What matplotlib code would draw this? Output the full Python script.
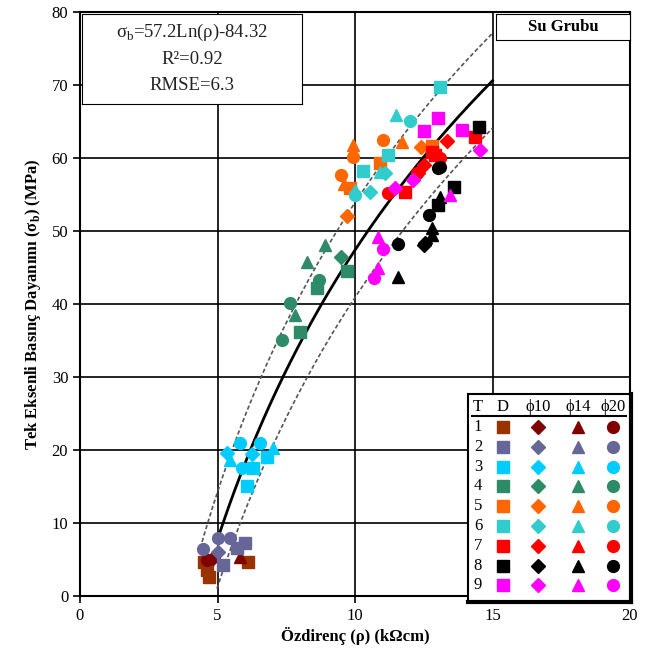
import matplotlib.pyplot as plt
import numpy as np

plt.rcParams['font.family'] = ['Liberation Serif', 'DejaVu Serif']
plt.rcParams['mathtext.fontset'] = 'custom'
plt.rcParams['mathtext.rm'] = 'Liberation Serif'
plt.rcParams['mathtext.bf'] = 'Liberation Serif:bold'

# group colours (1..9); group 1 squares are a browner red
colors = ["#800000", "#666699", "#00CCFF", "#2E8B68", "#FF6600",
          "#33CCCC", "#FF0000", "#000000", "#FF00FF"]
square1_color = "#993300"

# marker codes: s = D (square), D = phi10 (diamond), ^ = phi14, o = phi20
pt_group = [1, 1, 1, 1, 1, 1, 1,
            2, 2, 2, 2, 2, 2, 2,
            3, 3, 3, 3, 3, 3, 3, 3, 3, 3,
            4, 4, 4, 4, 4, 4, 4, 4, 4, 4,
            5, 5, 5, 5, 5, 5, 5, 5, 5, 5, 5,
            6, 6, 6, 6, 6, 6, 6, 6, 6, 6,
            7, 7, 7, 7, 7, 7, 7, 7, 7, 7,
            8, 8, 8, 8, 8, 8, 8, 8, 8, 8, 8, 8, 8,
            9, 9, 9, 9, 9, 9, 9, 9, 9, 9, 9]
pt_x = [4.5, 4.6, 4.7, 6.1, 4.85, 5.8, 4.6,
        4.47, 5.02, 5.45, 6.0, 5.7, 5.2, 5.0,
        5.82, 6.55, 5.35, 5.45, 7.0, 6.8, 6.3, 6.07, 5.9, 6.25,
        9.5, 9.7, 8.9, 8.25, 8.7, 8.6, 7.64, 7.8, 8.0, 7.35,
        9.93, 9.93, 11.0, 11.7, 10.9, 9.5, 9.6, 9.8, 9.7, 12.4, 12.8,
        13.1, 11.5, 12.0, 11.2, 10.3, 10.9, 11.1, 10.0, 10.0, 10.55,
        14.36, 13.35, 12.8, 12.9, 13.1, 12.5, 12.25, 11.8, 11.2, 12.3,
        14.5, 13.1, 13.0, 13.6, 13.0, 13.1, 12.7, 12.8, 12.8, 12.55, 11.55, 11.55, 12.5,
        13.0, 12.5, 13.9, 14.55, 13.45, 12.1, 11.45, 10.85, 11.0, 10.85, 10.7, 10.0]
pt_y = [4.6, 3.6, 2.6, 4.6, 5.2, 5.4, 5.0,
        6.5, 7.9, 8.0, 7.2, 6.6, 4.2, 6.0,
        21.0, 20.9, 19.6, 18.6, 20.3, 19.0, 17.6, 15.1, 17.6, 19.5,
        46.4, 44.5, 48.1, 45.8, 43.3, 42.2, 40.1, 38.5, 36.2, 35.1,
        61.8, 60.1, 62.4, 62.2, 59.3, 57.7, 56.5, 55.9, 52.1, 61.5, 61.7,
        69.7, 65.9, 65.0, 60.4, 58.2, 58.1, 57.9, 55.6, 54.9, 55.3,
        62.9, 62.3, 60.8, 60.4, 60.0, 59.0, 57.9, 55.4, 55.2, 57.9,
        64.3, 58.8, 58.6, 56.0, 53.6, 54.7, 52.2, 50.4, 49.4, 48.4, 48.2, 43.7, 48.1,
        65.5, 63.7, 63.8, 61.1, 54.9, 57.0, 55.9, 49.2, 47.5, 44.9, 43.6, 39.9]
pt_mark = ["s", "s", "s", "s", "D", "^", "o",
           "o", "o", "o", "s", "s", "s", "D",
           "o", "o", "D", "^", "^", "s", "s", "s", "o", "D",
           "D", "s", "^", "^", "o", "s", "o", "^", "s", "o",
           "^", "o", "o", "^", "s", "o", "^", "s", "D", "D", "s",
           "s", "^", "o", "s", "s", "^", "D", "^", "o", "D",
           "s", "D", "s", "s", "o", "D", "o", "s", "o", "D",
           "s", "o", "o", "s", "s", "^", "o", "^", "^", "D", "o", "^", "D",
           "s", "s", "s", "D", "^", "D", "D", "^", "o", "^", "o", "o"]

eq_lines = ["σ$_\\mathrm{b}$=57.2Ln(ρ)-84.32", "R²=0.92", "RMSE=6.3"]
legend_cols = ["T", "D", "ϕ10", "ϕ14", "ϕ20"]

fig = plt.figure(figsize=(6.46, 6.64), dpi=100)
ax = fig.add_axes([80 / 646, 68 / 664, 550 / 646, 584 / 664])

ax.set_xlim(0, 20)
ax.set_ylim(0, 80)
ax.set_xticks(np.arange(0, 21, 5))
ax.set_yticks(np.arange(0, 81, 10))
ax.grid(True, color="black", linewidth=1.2)
ax.set_axisbelow(True)
ax.tick_params(direction="out", length=5, width=1.2, labelsize=12)
for sp in ax.spines.values():
    sp.set_linewidth(1.5)

# fitted curve with dashed bounds
xf = np.linspace(5.05, 15, 200)
ax.plot(xf, 57.2 * np.log(xf) - 84.32, color="black", lw=2, zorder=3)
xu = np.linspace(4.37, 15, 200)
ax.plot(xu, 57.2 * np.log(xu) - 84.32 + 6.5, color="#555555", lw=1.2, ls=(0, (2.5, 1.5)), zorder=3)
xl = np.linspace(4.98, 15, 200)
ax.plot(xl, 57.2 * np.log(xl) - 84.32 - 6.5, color="#555555", lw=1.2, ls=(0, (2.5, 1.5)), zorder=3)

sizes = {"s": 8, "D": 7, "^": 8, "o": 8.5}
for g, x, y, m in zip(pt_group, pt_x, pt_y, pt_mark):
    c = square1_color if (g == 1 and m == "s") else colors[g - 1]
    ax.plot(x, y, marker=m, color=c, ms=sizes[m], ls="none", zorder=4)

ax.set_xlabel("Özdirenç (ρ) (kΩcm)", fontsize=12, fontweight="bold", labelpad=2)
ax.set_ylabel("Tek Eksenli Basınç Dayanımı (σ$_\\mathbf{b}$) (MPa)",
              fontsize=12, fontweight="bold", labelpad=6)

# equation box
eq_ax = fig.add_axes([82 / 646, 560 / 664, 220 / 646, 90 / 664])
eq_ax.set_xticks([])
eq_ax.set_yticks([])
eq_ax.set_facecolor("white")
for i, line in enumerate(eq_lines):
    eq_ax.text(0.5, 0.8 - i * 0.3, line, ha="center", va="center", fontsize=13.5,
               color="#222222", transform=eq_ax.transAxes)

# group label box
su_ax = fig.add_axes([496 / 646, 624 / 664, 134 / 646, 26 / 664])
su_ax.set_xticks([])
su_ax.set_yticks([])
su_ax.text(0.5, 0.5, "Su Grubu", ha="center", va="center", fontsize=12,
           fontweight="bold", transform=su_ax.transAxes)

# legend table
lg = fig.add_axes([468 / 646, 62 / 664, 163 / 646, 208 / 664])
lg.set_xlim(0, 163)
lg.set_ylim(208, 0)
lg.set_xticks([])
lg.set_yticks([])
for sp in lg.spines.values():
    sp.set_linewidth(1.5)
lg.spines["right"].set_linewidth(3)
lg.spines["bottom"].set_linewidth(3)
col_x = [10, 35, 70, 110, 145]
for cx, lab in zip(col_x, legend_cols):
    lg.text(cx, 13, lab, ha="center", va="center", fontsize=12)
lg.plot([4, 158], [22, 22], color="black", lw=1.5)
for r in range(9):
    ry = 33 + r * 19.8
    lg.text(col_x[0], ry, str(r + 1), ha="center", va="center", fontsize=12)
    for cx, m in zip(col_x[1:], ["s", "D", "^", "o"]):
        c = square1_color if (r == 0 and m == "s") else colors[r]
        lg.plot(cx, ry, marker=m, color=c, ms=sizes[m], ls="none")

fig.savefig("out.png", dpi=100)
